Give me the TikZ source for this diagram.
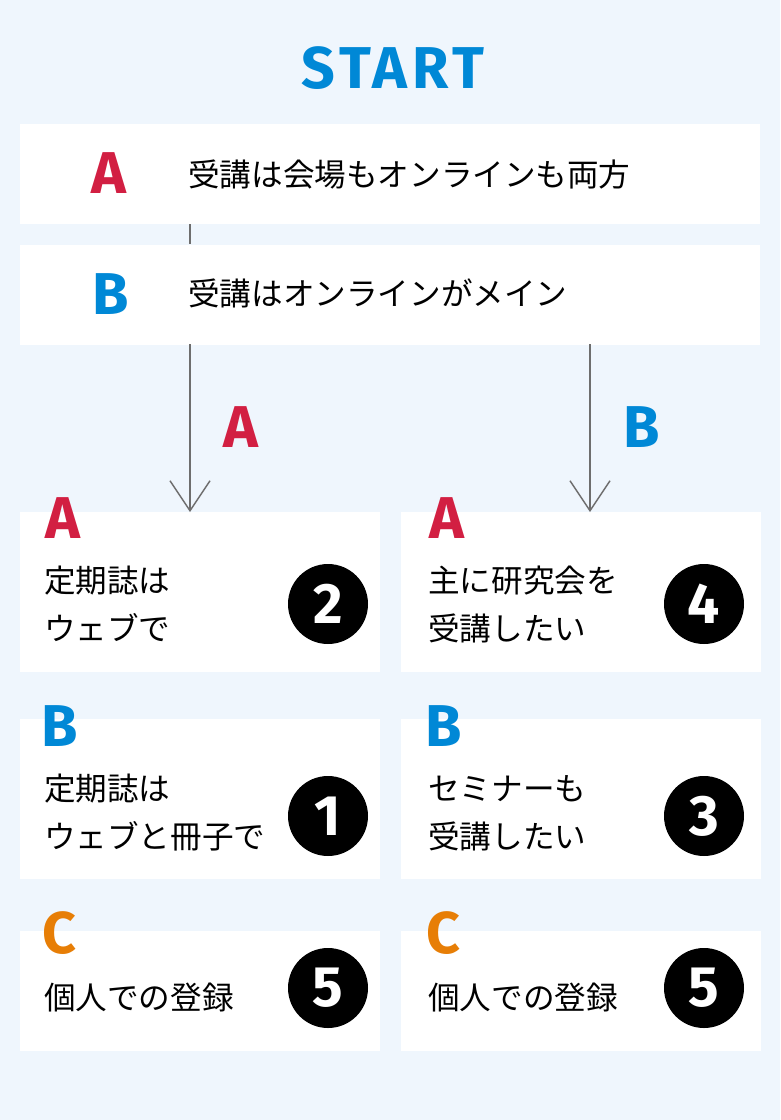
\documentclass[tikz,border=0pt]{standalone}
\usepackage{fontspec}
\setmainfont{Noto Sans CJK JP}
\newfontfamily\latinfont{Fira Sans}
\newfontfamily\startfont{Fira Sans}[LetterSpace=8]
\usetikzlibrary{positioning, arrows.meta}
\definecolor{bgblue}{HTML}{EFF6FD}
\definecolor{markred}{HTML}{D21F42}
\definecolor{markblue}{HTML}{0088D6}
\definecolor{markorange}{HTML}{E77E06}
\definecolor{linegray}{HTML}{6E6E6E}

\begin{document}
\begin{tikzpicture}[
		x=1pt, y=-1pt,
		panel/.style={fill=white, inner sep=0pt, anchor=north west},
		wide/.style={panel, minimum width=740pt, minimum height=100pt},
		half/.style={panel, minimum width=360pt, minimum height=160pt},
		low/.style={panel, minimum width=360pt, minimum height=120pt},
		choice/.style={font=\latinfont\bfseries\fontsize{59}{59}\selectfont, inner sep=0pt, anchor=base west},
		jtext/.style={font=\fontsize{31.6}{48}\selectfont, inner sep=0pt, anchor=west, align=left},
		num/.style={circle, fill=black, text=white, minimum size=80pt, inner sep=0pt, font=\latinfont\bfseries\fontsize{57}{57}\selectfont},
		flow/.style={-{Straight Barb[length=30pt, width=40pt]}, draw=linegray, line width=1.4pt},
		link/.style={draw=linegray, line width=1.4pt}
		]
		% background
		\fill[bgblue] (0,0) rectangle (780,1120);
		
		\node[choice, text=markblue, anchor=base, font=\startfont\bfseries\fontsize{59}{59}\selectfont] (start) at (393,88) {START};
		
		% question
		\node[wide] (qa) at (20,124) {};
		\node[wide, below=20pt of qa] (qb) {};
		\node[choice, text=markred, anchor=base] (ka) at (109,193) {A};
		\node[choice, text=markblue, anchor=base] (kb) at (111,314) {B};
		\node[jtext] (ta) at (188,174) {受講は会場もオンラインも両方};
		\node[jtext] (tb) at (188,293) {受講はオンラインがメイン};
		
		% answers
		\node[half] (r1l) at (20,512) {};
		\node[half, right=20pt of r1l] (r1r) {};
		\node[half, below=46pt of r1l] (r2l) {};
		\node[half, right=20pt of r2l] (r2r) {};
		\node[low, below=52pt of r2l] (r3l) {};
		\node[low, right=20pt of r3l] (r3r) {};
		
		\node[choice, text=markred] (k1l) at ([shift={(25,26)}]r1l.north west) {A};
		\node[choice, text=markred] (k1r) at ([shift={(29,26)}]r1r.north west) {A};
		\node[choice, text=markblue] (k2l) at ([shift={(21,28)}]r2l.north west) {B};
		\node[choice, text=markblue] (k2r) at ([shift={(25,28)}]r2r.north west) {B};
		\node[choice, text=markorange] (k3l) at ([shift={(22,23)}]r3l.north west) {C};
		\node[choice, text=markorange] (k3r) at ([shift={(26,23)}]r3r.north west) {C};
		
		\node[jtext] (t1l) at (44,604) {定期誌は\\ウェブで};
		\node[jtext] (t1r) at (428,604) {主に研究会を\\受講したい};
		\node[jtext] (t2l) at (44,813) {定期誌は\\ウェブと冊子で};
		\node[jtext] (t2r) at (428,813) {セミナーも\\受講したい};
		\node[jtext] (t3l) at (44,997) {個人での登録};
		\node[jtext] (t3r) at (428,997) {個人での登録};
		
		\node[num] (n2) at (328,604) {2};
		\node[num] (n4) at (704,604) {4};
		\node[num] (n1) at (328,816) {1};
		\node[num] (n3) at (704,816) {3};
		\node[num] (n5l) at (328,988) {5};
		\node[num] (n5r) at (704,988) {5};
		
		% connectors
		\coordinate (splitL) at (190,344);
		\coordinate (splitR) at (590,344);
		\draw[link] (qa.south -| splitL) -- (qb.north -| splitL);
		\draw[flow] (splitL) -- (splitL |- r1l.north);
		\draw[flow] (splitR) -- (splitR |- r1r.north);
		\node[choice, text=markred, anchor=base] (pa) at (241,447) {A};
		\node[choice, text=markblue, anchor=base] (pb) at (642,447) {B};
		
	\end{tikzpicture}
\end{document}
